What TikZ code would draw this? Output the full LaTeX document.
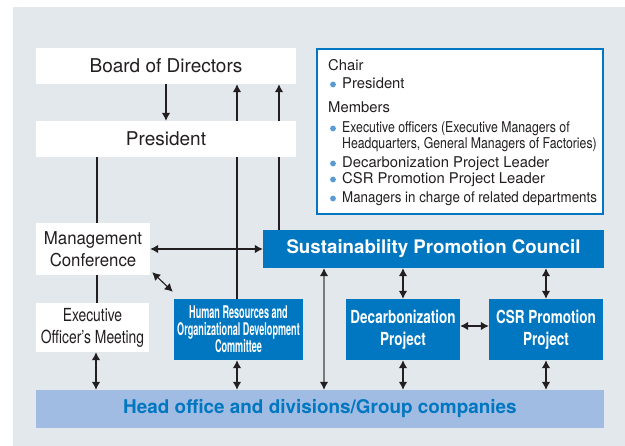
\documentclass[tikz,border=0pt]{standalone}
\usepackage{fontspec}
\setmainfont{TeX Gyre Heros}
\newfontfamily\fMg[FakeStretch=0.95]{TeX Gyre Heros}
\newfontfamily\fEx[FakeStretch=0.77]{TeX Gyre Heros}
\newfontfamily\fPr[FakeStretch=0.75]{TeX Gyre Heros}
\newfontfamily\fHr[FakeStretch=0.52]{TeX Gyre Heros}
\newfontfamily\fCa[FakeStretch=0.825]{TeX Gyre Heros}
\newfontfamily\fCb[FakeStretch=0.9]{TeX Gyre Heros}
\usetikzlibrary{arrows.meta}
\definecolor{panel}{HTML}{E3E8ED}
\definecolor{cblue}{HTML}{0077C0}
\definecolor{lblue}{HTML}{A0BCE2}
\definecolor{bulletc}{HTML}{5B9BD5}
\definecolor{txt}{HTML}{231F20}
\definecolor{gline}{HTML}{7A7A7A}
\pgfdeclarelayer{bg}
\pgfdeclarelayer{lines}
\pgfsetlayers{bg,lines,main}
\begin{document}
\begin{tikzpicture}[x=1pt,y=-1pt,
  whitebox/.style={fill=white, inner sep=0pt, text=txt, align=center},
  bluebox/.style={fill=cblue, inner sep=0pt, text=white, align=center},
  chairtxt/.style={anchor=base west, inner sep=0pt, text=txt, font=\fontsize{14.8}{16}\selectfont},
  bul/.style={fill=bulletc},
  conn/.style={line width=1.1pt, draw=txt, {Latex[length=8pt,width=8.5pt,color=txt]}-{Latex[length=8pt,width=8.5pt,color=txt]}},
  uparr/.style={line width=1.1pt, draw=txt, -{Latex[length=8pt,width=8.5pt,color=txt]}},
  plain/.style={line width=1.1pt, draw=txt},
]
\useasboundingbox (0,0) rectangle (625,446);
\begin{pgfonlayer}{bg}
  \fill[panel] (13,7) rectangle (625,446);
\end{pgfonlayer}

% coordinates for vertical connector positions
\coordinate (x96) at (96,0);
\coordinate (x97) at (97,0);
\coordinate (x237) at (237,0);
\coordinate (x279) at (279,0);
\coordinate (x324) at (324,0);

% nodes
\node[whitebox, minimum width=260pt, minimum height=36pt, font=\fontsize{19}{22}\selectfont] (board) at (166,66) {Board of Directors};
\node[whitebox, minimum width=260pt, minimum height=36pt, font=\fontsize{19}{22}\selectfont] (pres) at (166,139) {President};
\node[whitebox, minimum width=114pt, minimum height=52pt, font=\fMg\fontsize{17.7}{22.5}\selectfont] (mgmt) at (93,249) {Management\\Conference};
\node[whitebox, minimum width=113pt, minimum height=49pt, font=\fEx\fontsize{18}{22}\selectfont] (exec) at (92.5,327.5) {Executive\\Officer’s Meeting};
\node[bluebox, minimum width=129pt, minimum height=61pt, font=\fHr\bfseries\fontsize{17.5}{17}\selectfont] (hr) at (238.5,329.5) {Human Resources and\\Organizational Development\\Committee};
\node[bluebox, minimum width=341pt, minimum height=38pt, font=\bfseries\fontsize{18.7}{22}\selectfont] (spc) at (433.5,249) {Sustainability Promotion Council};
\node[bluebox, minimum width=114pt, minimum height=61pt, font=\fPr\bfseries\fontsize{18}{22}\selectfont] (dec) at (403,329.5) {Decarbonization\\Project};
\node[bluebox, minimum width=114pt, minimum height=61pt, font=\fPr\bfseries\fontsize{18}{22}\selectfont] (csr) at (546,329.5) {CSR Promotion\\Project};
\node[fill=lblue, inner sep=0pt, minimum width=568pt, minimum height=38pt, text=cblue, font=\bfseries\fontsize{18.9}{22}\selectfont] (head) at (320,409) {Head office and divisions/Group companies};

% chair / members box
\node[draw=cblue, line width=1.5pt, fill=white, inner sep=0pt, minimum width=286pt, minimum height=165pt] (chair) at (460,131.5) {};
\node[chairtxt] (tchair) at (328,71) {Chair};
\fill[bul] (333,84.5) circle (2.9);
\node[chairtxt] (tpres) at (342,89) {President};
\node[chairtxt] (tmem) at (328,113) {Members};
\fill[bul] (333,128.5) circle (2.9);
\node[chairtxt, font=\fCa\fontsize{14.9}{16}\selectfont] (tex1) at (342,133) {Executive officers (Executive Managers of};
\node[chairtxt, font=\fCa\fontsize{14.9}{16}\selectfont] (tex2) at (342,148.5) {Headquarters, General Managers of Factories)};
\fill[bul] (333,163.5) circle (2.9);
\node[chairtxt] (tdec) at (342,168) {Decarbonization Project Leader};
\fill[bul] (333,179.5) circle (2.9);
\node[chairtxt] (tcsr) at (342,184) {CSR Promotion Project Leader};
\fill[bul] (333,198.5) circle (2.9);
\node[chairtxt, font=\fCb\fontsize{14.8}{16}\selectfont] (tman) at (342,203) {Managers in charge of related departments};

% connectors
\begin{pgfonlayer}{lines}
  \draw[uparr] (board.south) -- (pres.north);
  \draw[uparr] (hr.north -| x237) -- (board.south -| x237);
  \draw[uparr] (spc.north -| x279) -- (board.south -| x279);
  \draw[plain] (pres.south -| x97) -- (exec.north -| x97);
  \draw[conn] (mgmt.east) -- (mgmt.east -| spc.west);
  \draw[conn] ([shift={(2,-3)}]mgmt.south east) -- ([shift={(-1,-7)}]hr.north west);
  \draw[conn] (exec.south -| x96) -- (head.north -| x96);
  \draw[conn] (hr.south -| x237) -- (head.north -| x237);
  \draw[conn, draw=gline] (spc.south -| x324) -- (head.north -| x324);
  \draw[conn] (spc.south -| dec.north) -- (dec.north);
  \draw[conn] (spc.south -| csr.north) -- (csr.north);
  \draw[conn] ([yshift=3.5pt]dec.east) -- ([yshift=3.5pt]csr.west);
  \draw[conn] (dec.south) -- (dec.south |- head.north);
  \draw[conn] (csr.south) -- (csr.south |- head.north);
\end{pgfonlayer}
\end{tikzpicture}
\end{document}
